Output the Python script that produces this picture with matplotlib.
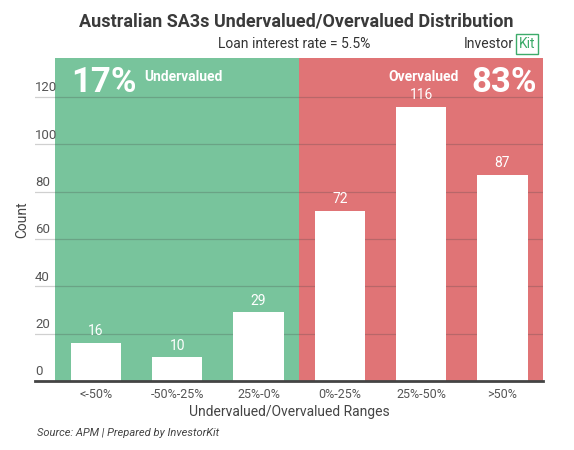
import matplotlib.pyplot as plt
import numpy as np

plt.rcParams['font.family'] = ['Roboto', 'DejaVu Sans']

categories = ['<-50%', '-50%-25%', '25%-0%', '0%-25%', '25%-50%', '>50%']
counts = [16, 10, 29, 72, 116, 87]
yticks = [0, 20, 40, 60, 80, 100, 120]

green = '#78c49c'
red = '#e07476'

fig = plt.figure(figsize=(5.74, 4.5), dpi=100, facecolor='white')
# axes from x=35px to 543px, y from 58px to 381px
ax = fig.add_axes([35 / 574, 1 - 381 / 450, (543 - 35) / 574, (381 - 58) / 450])
ax.set_xlim(-0.75, 5.5)
ax.set_ylim(0, 136.5)

x = np.arange(len(categories))

# shaded halves
ax.axvspan(-0.5, 2.5, color=green, zorder=0, lw=0)
ax.axvspan(2.5, 5.5, color=red, zorder=0, lw=0)

# gridlines + left-aligned tick labels sitting above them
for t in yticks[1:]:
    ax.axhline(t, color='#444444', alpha=0.25, lw=0.9, zorder=1)
for t in yticks:
    ax.text(-0.75, t + 1.2, str(t), ha='left', va='bottom', fontsize=9.5,
            color='#555555', zorder=3)

ax.bar(x, counts, width=0.62, color='white', zorder=2)
for xi, c in zip(x, counts):
    ax.text(xi, c + 2, str(c), ha='center', va='bottom', fontsize=10,
            color='white', zorder=3)

ax.axhline(0, color='#444444', lw=2, zorder=4, clip_on=False)

for s in ax.spines.values():
    s.set_visible(False)
ax.set_yticks([])
ax.set_xticks(x)
ax.set_xticklabels(categories, fontsize=9, color='#555555')
ax.tick_params(axis='x', length=0, pad=5)
ax.set_xlabel('Undervalued/Overvalued Ranges', fontsize=10, color='#444444',
              labelpad=3)

fig.text(22 / 574, 1 - 220 / 450, 'Count', rotation=90, ha='center',
         va='center', fontsize=10, color='#444444')

# big percentage labels
ax.text(-0.3, 126, '17%', fontsize=25, fontweight='bold', color='white',
        ha='left', va='center', zorder=5)
ax.text(0.6, 128.5, 'Undervalued', fontsize=10, fontweight='bold',
        color='white', ha='left', va='center', zorder=5)
ax.text(4.46, 128.5, 'Overvalued', fontsize=10, fontweight='bold',
        color='white', ha='right', va='center', zorder=5)
ax.text(5.43, 126, '83%', fontsize=25, fontweight='bold', color='white',
        ha='right', va='center', zorder=5)

fig.text(296 / 574, 1 - 21 / 450,
         'Australian SA3s Undervalued/Overvalued Distribution',
         ha='center', va='center', fontsize=13, fontweight='bold',
         color='#3a3a3a')
fig.text(294 / 574, 1 - 44 / 450, 'Loan interest rate = 5.5%',
         ha='center', va='center', fontsize=10, color='#333333')

# logo
fig.text(514 / 574, 1 - 44 / 450, 'Investor', ha='right', va='center',
         fontsize=10, color='#333333')
fig.text(519 / 574, 1 - 44 / 450, 'Kit', ha='left', va='center',
         fontsize=10, color='#3dab6a',
         bbox=dict(boxstyle='square,pad=0.2', fc='white', ec='#3dab6a',
                   lw=1))

fig.text(37 / 574, 1 - 433 / 450, 'Source: APM | Prepared by InvestorKit',
         ha='left', va='center', fontsize=8, style='italic',
         color='#444444')

fig.savefig('out.png', dpi=100, facecolor='white')
